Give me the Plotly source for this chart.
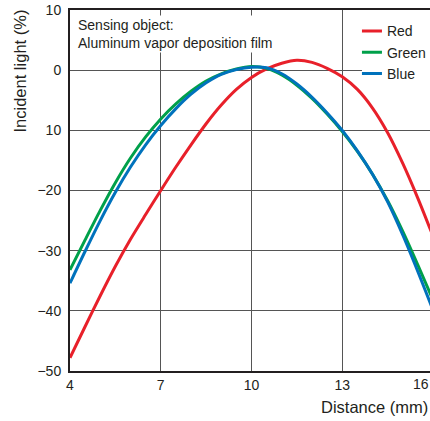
import plotly.graph_objects as go

distance = [4, 4.5, 5, 5.5, 6, 6.5, 7, 7.5, 8, 8.5, 9, 9.5, 10, 10.5, 11, 11.5,
            12, 12.5, 13, 13.5, 14, 14.5, 15, 15.5, 16]
red = [-47.8, -42.6, -37.5, -32.6, -28.1, -24.0, -20.0, -16.1, -12.4, -8.9, -5.8,
       -3.2, -1.2, 0.2, 1.15, 1.65, 1.3, 0.3, -1.1, -3.2, -6.3, -10.4, -15.5, -21.3, -27.6]
green = [-33.2, -28.2, -23.3, -18.7, -14.6, -11.1, -8.1, -5.6, -3.5, -1.8, -0.6,
         0.2, 0.6, 0.3, -0.8, -2.5, -4.7, -7.3, -10.2, -13.5, -17.3, -21.7, -26.8, -32.4, -38.2]
blue = [-35.4, -30.1, -25.0, -20.3, -16.1, -12.4, -9.2, -6.4, -4.0, -2.1, -0.7,
        0.1, 0.5, 0.4, -0.6, -2.3, -4.5, -7.1, -10.0, -13.4, -17.3, -21.9, -27.4, -33.5, -39.9]

x_ticks = [4, 7, 10, 13, 16]
y_ticks = [10, 0, -10, -20, -30, -40, -50]
y_tick_text = ["10", "0", "10", "\u221220", "\u221230", "\u221240", "\u221250"]

# the original chart is cropped just before x = 16
x_range = [4, 15.9]
y_range = [-50, 10]

series = [("Red", red, "#E8202A"), ("Green", green, "#00A04A"), ("Blue", blue, "#0072BC")]

font_family = "Liberation Sans, Arial, sans-serif"
text_color = "#231F20"

fig = go.Figure()
for name, vals, color in series:
    fig.add_trace(go.Scatter(x=distance, y=vals, name=name, mode="lines",
                             line=dict(color=color, width=3, shape="spline", smoothing=0.8)))

# last tick (16) lies just outside the cropped range; its label is placed as an annotation
last_tick_paper = (x_ticks[-1] - x_range[0]) / (x_range[1] - x_range[0])

fig.update_layout(
    width=430, height=421,
    margin=dict(l=70, r=0, t=10, b=50, autoexpand=False),
    paper_bgcolor="white", plot_bgcolor="white",
    font=dict(family=font_family, size=14, color=text_color),
    showlegend=True,
    legend=dict(x=0.811, y=0.985, xanchor="left", yanchor="top",
                bgcolor="white", borderwidth=0, itemwidth=30, indentation=-15,
                font=dict(size=14, color=text_color), tracegroupgap=0),
    xaxis=dict(range=x_range, tickvals=x_ticks, ticktext=[str(v) for v in x_ticks],
               showgrid=True, gridcolor="#555555", gridwidth=1,
               showline=True, linecolor="#231F20", linewidth=2, mirror=True,
               ticks="", zeroline=False, automargin=False,
               tickfont=dict(size=14, color=text_color)),
    yaxis=dict(range=y_range, tickvals=y_ticks, ticktext=y_tick_text,
               showgrid=True, gridcolor="#555555", gridwidth=1,
               showline=True, linecolor="#231F20", linewidth=2, mirror=False,
               ticks="", zeroline=False, ticklabelstandoff=4, automargin=False,
               tickfont=dict(size=14, color=text_color)),
    annotations=[
        dict(text="Sensing object:<br>Aluminum vapor deposition film",
             xref="paper", yref="paper", x=0, y=1, xanchor="left", yanchor="top",
             xshift=6, yshift=-5, showarrow=False, align="left",
             bgcolor="white", font=dict(size=14, color=text_color)),
        dict(text=str(x_ticks[-1]), xref="paper", yref="paper", x=last_tick_paper, y=0,
             xanchor="right", yanchor="middle", xshift=-2, yshift=-13,
             showarrow=False, font=dict(size=14, color=text_color)),
        dict(text="Incident light (%)", textangle=-90,
             xref="paper", yref="paper", x=0, y=1, xanchor="center", yanchor="top",
             xshift=-51, yshift=2, showarrow=False,
             font=dict(size=16.5, color=text_color)),
        dict(text="Distance (mm)", xref="paper", yref="paper", x=1, y=0,
             xanchor="right", yanchor="middle", xshift=0, yshift=-36, showarrow=False,
             font=dict(size=16.5, color=text_color)),
    ],
)

fig.write_html("out.html", config={"displayModeBar": False},
               post_script="document.body.style.margin='0';"
                           "document.documentElement.style.overflow='hidden';")
